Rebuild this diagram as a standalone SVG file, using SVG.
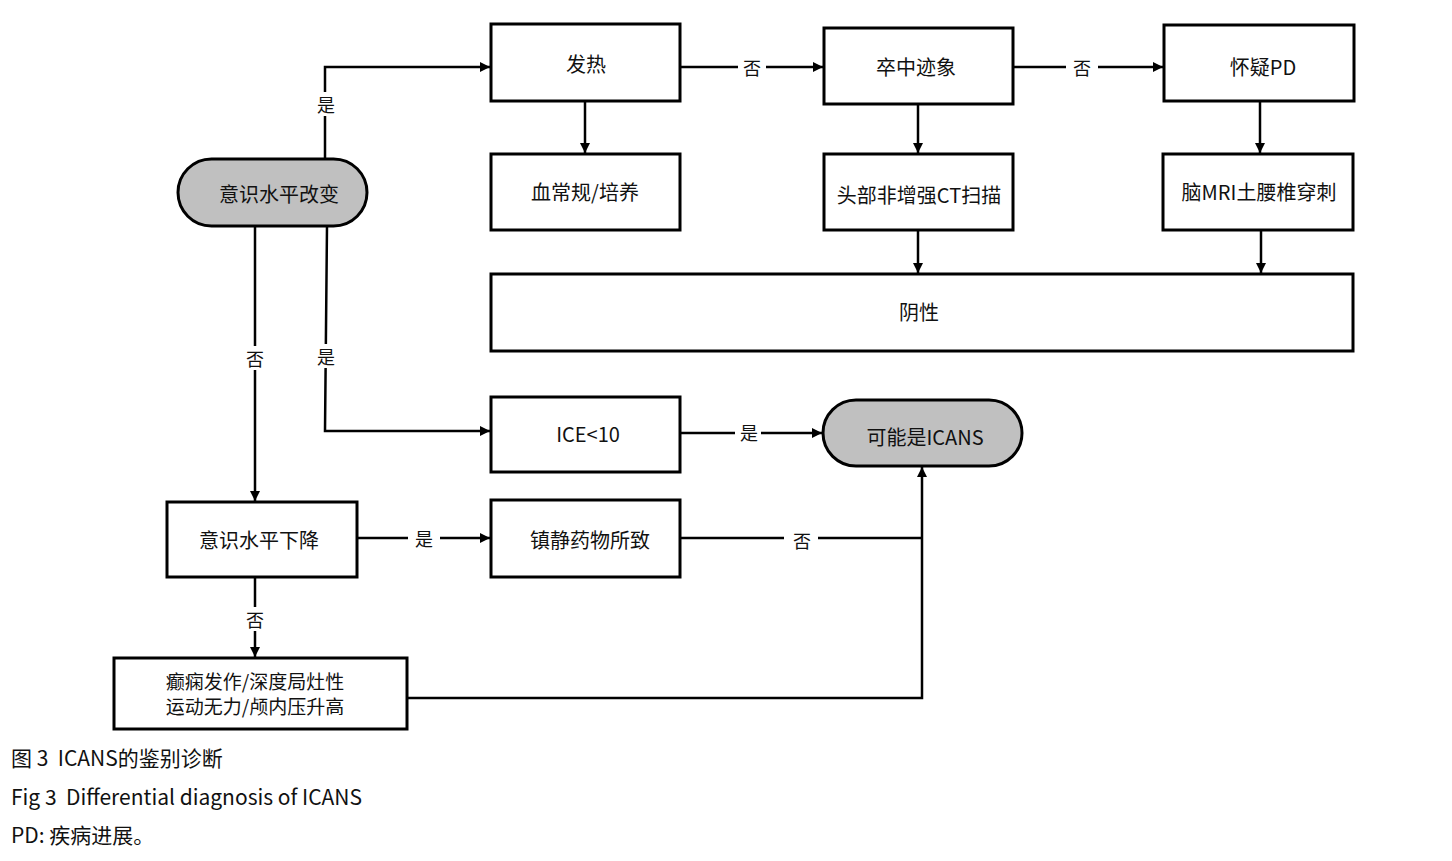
<svg xmlns="http://www.w3.org/2000/svg" width="1452" height="861" viewBox="0 0 1452 861">
<style>
.box{fill:#fff;stroke:#000;stroke-width:3}
.pill{fill:#c0c0c0;stroke:#000;stroke-width:3}
.t{font-family:"Noto Sans CJK SC","Noto Sans",sans-serif;font-size:20px;fill:#111;text-anchor:middle;dominant-baseline:central}
.t2{font-family:"Noto Sans CJK SC","Noto Sans",sans-serif;font-size:19px;fill:#111;text-anchor:middle;dominant-baseline:central}
.lbl{font-family:"Noto Sans CJK SC","Noto Sans",sans-serif;font-size:18px;fill:#111;text-anchor:middle;dominant-baseline:central}
.bg{fill:#fff}
.ln{fill:none;stroke:#000;stroke-width:2.5}
.cap{font-family:"Noto Sans CJK SC","Noto Sans",sans-serif;font-size:21px;fill:#111}
</style>
<defs>
<marker id="ah" viewBox="0 0 10 10" refX="10" refY="5" markerWidth="4" markerHeight="4" orient="auto" markerUnits="strokeWidth">
<path d="M0,0 L10,5 L0,10 z" fill="#000"/>
</marker>
</defs>
<rect width="1452" height="861" fill="#fff"/>
<g id="connectors">
<path class="ln" d="M325,159 V67 H490" marker-end="url(#ah)"/>
<path class="ln" d="M680,67 H823" marker-end="url(#ah)"/>
<path class="ln" d="M1013,67 H1163" marker-end="url(#ah)"/>
<path class="ln" d="M585,101 V153" marker-end="url(#ah)"/>
<path class="ln" d="M918,104 V153" marker-end="url(#ah)"/>
<path class="ln" d="M1260,101 V153" marker-end="url(#ah)"/>
<path class="ln" d="M918,230 V273" stroke-width="2" marker-end="url(#ah)"/>
<path class="ln" d="M1261,230 V273" stroke-width="2" marker-end="url(#ah)"/>
<path class="ln" d="M255,226 V501" marker-end="url(#ah)"/>
<path class="ln" d="M327,226 L325,431 H490" marker-end="url(#ah)"/>
<path class="ln" d="M680,433 H822" marker-end="url(#ah)"/>
<path class="ln" d="M357,538 H490" marker-end="url(#ah)"/>
<path class="ln" d="M680,538 H922"/>
<path class="ln" d="M255,577 V657" marker-end="url(#ah)"/>
<path class="ln" d="M407,698 H922 V467" marker-end="url(#ah)"/>
<rect class="bg" x="314" y="92" width="24" height="24"/>
<text class="lbl" x="326" y="104">是</text>
<rect class="bg" x="738" y="55" width="28" height="24"/>
<text class="lbl" x="752" y="67">否</text>
<rect class="bg" x="1066" y="55" width="32" height="24"/>
<text class="lbl" x="1082" y="67">否</text>
<rect class="bg" x="243" y="346" width="24" height="24"/>
<text class="lbl" x="255" y="358">否</text>
<rect class="bg" x="314" y="344" width="24" height="24"/>
<text class="lbl" x="326" y="356">是</text>
<rect class="bg" x="735" y="421" width="26" height="24"/>
<text class="lbl" x="749" y="432">是</text>
<rect class="bg" x="408" y="526" width="32" height="24"/>
<text class="lbl" x="424" y="538">是</text>
<rect class="bg" x="784" y="526" width="34" height="24"/>
<text class="lbl" x="802" y="540">否</text>
<rect class="bg" x="243" y="607" width="24" height="24"/>
<text class="lbl" x="255" y="619">否</text>
</g>
<g id="n-change"><rect class="pill" x="178" y="159" width="189" height="67" rx="33.5"/><text class="t" x="279" y="193">意识水平改变</text></g>
<g id="n-fever"><rect class="box" x="491" y="24" width="189" height="77"/><text class="t" x="586" y="63">发热</text></g>
<g id="n-blood"><rect class="box" x="491" y="154" width="189" height="76"/><text class="t" x="585" y="191">血常规/培养</text></g>
<g id="n-stroke"><rect class="box" x="824" y="28" width="189" height="76"/><text class="t" x="916" y="66">卒中迹象</text></g>
<g id="n-ct"><rect class="box" x="824" y="154" width="189" height="76"/><text class="t" x="919" y="194">头部非增强CT扫描</text></g>
<g id="n-pd"><rect class="box" x="1164" y="25" width="190" height="76"/><text class="t" x="1263" y="66">怀疑PD</text></g>
<g id="n-mri"><rect class="box" x="1163" y="154" width="190" height="76"/><text class="t" x="1259" y="191">脑MRI土腰椎穿刺</text></g>
<g id="n-neg"><rect class="box" x="491" y="274" width="862" height="77"/><text class="t" x="919" y="311">阴性</text></g>
<g id="n-ice"><rect class="box" x="491" y="397" width="189" height="75"/><text class="t" x="588" y="433">ICE&lt;10</text></g>
<g id="n-icans"><rect class="pill" x="823" y="400" width="199" height="66" rx="33"/><text class="t" x="925" y="436">可能是ICANS</text></g>
<g id="n-decline"><rect class="box" x="167" y="502" width="190" height="75"/><text class="t" x="259" y="539">意识水平下降</text></g>
<g id="n-sedate"><rect class="box" x="491" y="500" width="189" height="77"/><text class="t" x="590" y="539">镇静药物所致</text></g>
<g id="n-seizure"><rect class="box" x="114" y="658" width="293" height="71"/><text class="t2" x="255" y="680">癫痫发作/深度局灶性</text><text class="t2" x="255" y="705">运动无力/颅内压升高</text></g>
<g id="caption">
<text class="cap" x="11" y="766" xml:space="preserve">图 3  ICANS的鉴别诊断</text>
<text class="cap" x="11" y="805" xml:space="preserve">Fig 3  Differential diagnosis of ICANS</text>
<text class="cap" x="11" y="843">PD: 疾病进展。</text>
</g>
</svg>
